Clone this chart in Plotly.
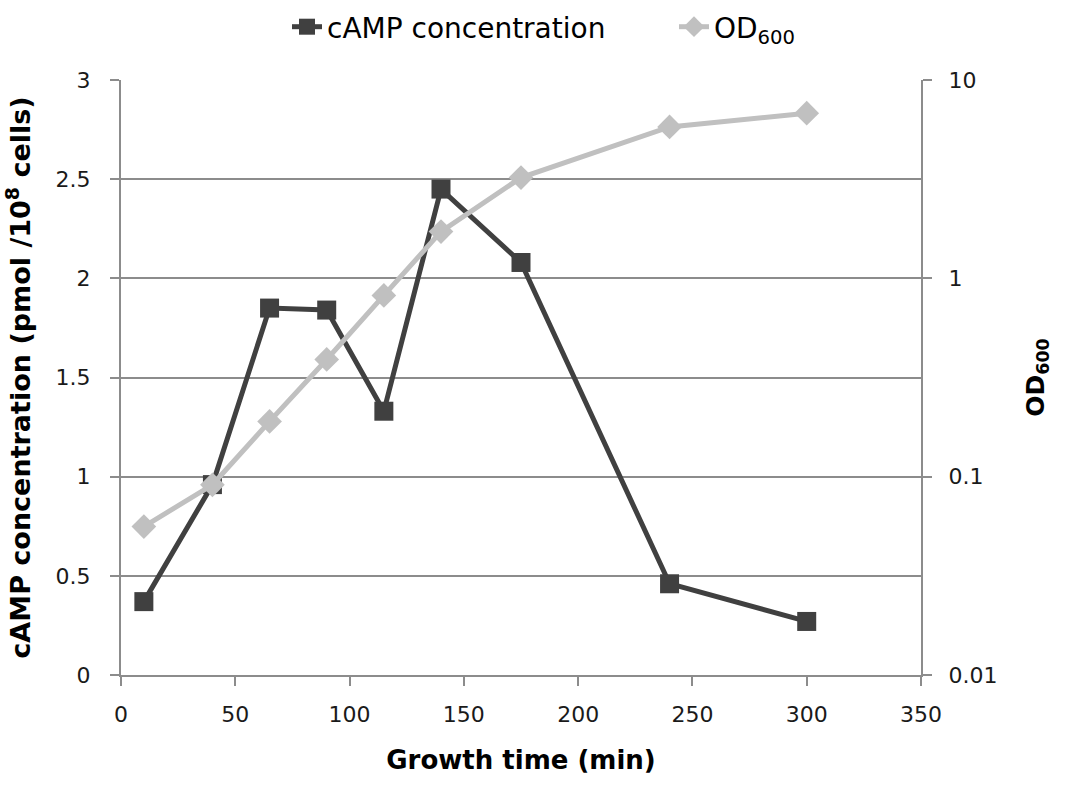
import plotly.graph_objects as go

time_min = [10, 40, 65, 90, 115, 140, 175, 240, 300]
camp_conc = [0.37, 0.96, 1.85, 1.84, 1.33, 2.45, 2.08, 0.46, 0.27]
od600 = [0.056, 0.091, 0.19, 0.39, 0.82, 1.72, 3.22, 5.8, 6.8]

x_ticks = [0, 50, 100, 150, 200, 250, 300, 350]
y_ticks = [0, 0.5, 1, 1.5, 2, 2.5, 3]
y2_ticks = [0.01, 0.1, 1, 10]
y2_labels = ["0.01", "0.1", "1", "10"]

DARK = "#404040"
LIGHT = "#c0c0c0"
GRID = "#8c8c8c"
FONT = "DejaVu Sans"

fig = go.Figure()
fig.add_trace(go.Scatter(
    x=time_min, y=od600, name="OD<sub>600</sub>", yaxis="y2",
    mode="lines+markers",
    line=dict(color=LIGHT, width=5),
    marker=dict(symbol="diamond", size=19, color=LIGHT),
))
fig.add_trace(go.Scatter(
    x=time_min, y=camp_conc, name="cAMP concentration",
    mode="lines+markers",
    line=dict(color=DARK, width=5),
    marker=dict(symbol="square", size=19, color=DARK),
))

tickfont = dict(family=FONT, size=22, color="#1a1a1a")

fig.update_layout(
    width=1072, height=786,
    margin=dict(l=121, r=151, t=80, b=111, autoexpand=False),
    paper_bgcolor="white", plot_bgcolor="white",
    font=dict(family=FONT),
    legend=dict(
        orientation="h", xref="container", yref="container",
        x=287 / 1072, xanchor="left", y=1 - 27 / 786, yanchor="middle",
        font=dict(family=FONT, size=28, color="#000000"),
        traceorder="reversed", entrywidth=342,
    ),
    xaxis=dict(
        range=[0, 350], tickvals=x_ticks, showgrid=False,
        showline=True, linecolor=GRID, linewidth=2,
        ticks="outside", ticklen=9, tickcolor=GRID, tickwidth=2,
        tickfont=tickfont, ticklabelstandoff=10,
        title=dict(text="Growth time (min)", font=dict(family=FONT, size=26, color="#000000", weight="bold"), standoff=24),
    ),
    yaxis=dict(
        range=[0, 3], tickvals=y_ticks, showgrid=True, gridcolor=GRID, gridwidth=2,
        zeroline=False,
        showline=True, linecolor=GRID, linewidth=2,
        ticks="outside", ticklen=9, tickcolor=GRID, tickwidth=2,
        tickfont=tickfont, ticklabelstandoff=15,
        title=dict(text="cAMP concentration (pmol /10<sup>8</sup> cells)", font=dict(family=FONT, size=27, color="#000000", weight="bold"), standoff=17),
    ),
    yaxis2=dict(
        type="log", range=[-2, 1], overlaying="y", side="right",
        tickvals=y2_ticks, ticktext=y2_labels, showgrid=False,
        showline=True, linecolor=GRID, linewidth=2,
        ticks="outside", ticklen=9, tickcolor=GRID, tickwidth=2,
        tickfont=tickfont, ticklabelstandoff=12,
        title=dict(text="OD<sub>600</sub>", font=dict(family=FONT, size=25, color="#000000", weight="bold"), standoff=30),
    ),
)

fig.write_html("out.html")
